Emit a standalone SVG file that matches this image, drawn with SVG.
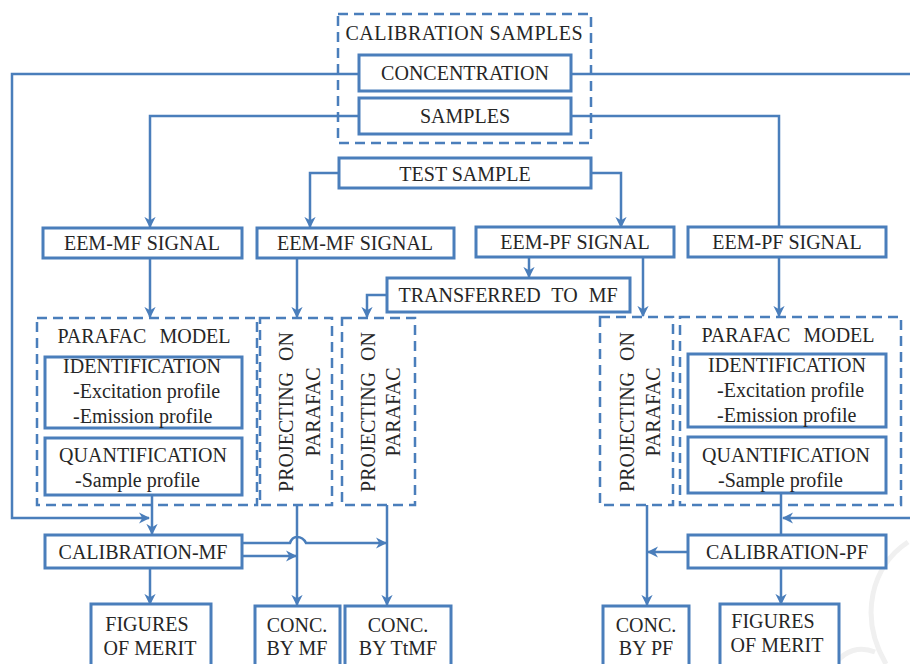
<svg xmlns="http://www.w3.org/2000/svg" width="910" height="664" viewBox="0 0 910 664">
<style>
.box{fill:#fff;stroke:#4a7ebb;stroke-width:3}
.dash{fill:none;stroke:#4a7ebb;stroke-width:2.5;stroke-dasharray:10 6}
.t{font-family:'Liberation Serif','Times New Roman','DejaVu Serif',serif;font-size:20px;fill:#262626;text-anchor:middle}
.l{text-anchor:start}
.c{fill:none;stroke:#4a7ebb;stroke-width:2.5}
.a{marker-end:url(#arr)}
.wm{fill:none;stroke:#f0f0f0;stroke-width:5}
</style>
<defs>
<marker id="arr" viewBox="0 0 10 10" refX="9" refY="5" markerWidth="4.5" markerHeight="4.5" orient="auto" markerUnits="strokeWidth">
<path d="M0,0 L10,5 L0,10 L3,5 Z" fill="#4a7ebb"/>
</marker>
</defs>
<rect width="910" height="664" fill="#fff"/>
<g id="watermark">
<path class="wm" d="M908,542 C872,566 858,616 886,664"/>
<path class="wm" d="M835,664 C845,650 860,646 875,652"/>
</g>
<g id="connectors">
<path class="c a" d="M359,74 H12 V518 H149"/>
<path class="c" d="M571,74 H915"/>
<path class="c a" d="M915,518 H783"/>
<path class="c a" d="M359,116 H150 V227"/>
<path class="c" d="M571,116 H779 V228"/>
<path class="c a" d="M339,173 H310 V227"/>
<path class="c a" d="M591,173 H621 V227"/>
<path class="c a" d="M150,258 V317"/>
<path class="c a" d="M297,258 V317"/>
<path class="c a" d="M529,257 V277"/>
<path class="c a" d="M643,257 V316"/>
<path class="c a" d="M779,257 V316"/>
<path class="c a" d="M387,295 H367 V317"/>
<path class="c a" d="M152,495 V534"/>
<path class="c a" d="M297,505 V605"/>
<path class="c a" d="M387,505 V605"/>
<path class="c a" d="M242,543 H290 Q292,537 297,537 Q303,537 306,543 H386"/>
<path class="c a" d="M242,556 H296"/>
<path class="c" d="M781,493 V535"/>
<path class="c a" d="M688,552 H648"/>
<path class="c a" d="M647,505 V605"/>
<path class="c a" d="M781,568 V604"/>
<path class="c a" d="M150,568 V604"/>
</g>
<g id="calibration-samples">
<rect class="dash" x="338" y="14" width="253" height="129"/>
<text class="t" x="464" y="40" textLength="237" lengthAdjust="spacing">CALIBRATION SAMPLES</text>
</g>
<g id="concentration">
<rect class="box" x="359" y="55" width="212" height="36"/>
<text class="t" x="465" y="80">CONCENTRATION</text>
</g>
<g id="samples">
<rect class="box" x="359" y="98" width="212" height="36"/>
<text class="t" x="465" y="123">SAMPLES</text>
</g>
<g id="test-sample">
<rect class="box" x="339" y="158" width="252" height="30"/>
<text class="t" x="465" y="181">TEST SAMPLE</text>
</g>
<g id="eem-mf-1">
<rect class="box" x="43" y="228" width="199" height="30"/>
<text class="t" x="142" y="250">EEM-MF SIGNAL</text>
</g>
<g id="eem-mf-2">
<rect class="box" x="257" y="228" width="197" height="30"/>
<text class="t" x="355" y="250">EEM-MF SIGNAL</text>
</g>
<g id="eem-pf-1">
<rect class="box" x="476" y="227" width="198" height="30"/>
<text class="t" x="575" y="249">EEM-PF SIGNAL</text>
</g>
<g id="eem-pf-2">
<rect class="box" x="688" y="227" width="198" height="30"/>
<text class="t" x="787" y="249">EEM-PF SIGNAL</text>
</g>
<g id="transferred">
<rect class="box" x="387" y="278" width="243" height="34"/>
<text class="t" x="508" y="302" word-spacing="6">TRANSFERRED TO MF</text>
</g>
<g id="parafac-left">
<rect class="dash" x="37" y="318" width="220" height="187"/>
<text class="t" x="144" y="343" word-spacing="8">PARAFAC MODEL</text>
<rect class="box" x="45" y="357" width="197" height="71"/>
<text class="t" x="142" y="373">IDENTIFICATION</text>
<text class="t l" x="73" y="398">-Excitation profile</text>
<text class="t l" x="73" y="423">-Emission profile</text>
<rect class="box" x="45" y="438" width="197" height="57"/>
<text class="t" x="143" y="462">QUANTIFICATION</text>
<text class="t l" x="75" y="487">-Sample profile</text>
</g>
<g id="projecting-1">
<rect class="dash" x="260" y="318" width="72" height="187"/>
<text class="t" transform="translate(293,412) rotate(-90)" word-spacing="6">PROJECTING ON</text>
<text class="t" transform="translate(320,412) rotate(-90)">PARAFAC</text>
</g>
<g id="projecting-2">
<rect class="dash" x="342" y="318" width="73" height="187"/>
<text class="t" transform="translate(375,412) rotate(-90)" word-spacing="6">PROJECTING ON</text>
<text class="t" transform="translate(400,412) rotate(-90)">PARAFAC</text>
</g>
<g id="projecting-3">
<rect class="dash" x="600" y="317" width="73" height="188"/>
<text class="t" transform="translate(634,412) rotate(-90)" word-spacing="6">PROJECTING ON</text>
<text class="t" transform="translate(660,412) rotate(-90)">PARAFAC</text>
</g>
<g id="parafac-right">
<rect class="dash" x="680" y="317" width="221" height="188"/>
<text class="t" x="788" y="342" word-spacing="8">PARAFAC MODEL</text>
<rect class="box" x="688" y="354" width="198" height="73"/>
<text class="t" x="787" y="372">IDENTIFICATION</text>
<text class="t l" x="717" y="397">-Excitation profile</text>
<text class="t l" x="717" y="422">-Emission profile</text>
<rect class="box" x="688" y="437" width="198" height="56"/>
<text class="t" x="786" y="462">QUANTIFICATION</text>
<text class="t l" x="718" y="487">-Sample profile</text>
</g>
<g id="calibration-mf">
<rect class="box" x="45" y="535" width="197" height="33"/>
<text class="t" x="143" y="559">CALIBRATION-MF</text>
</g>
<g id="calibration-pf">
<rect class="box" x="688" y="535" width="198" height="33"/>
<text class="t" x="787" y="559">CALIBRATION-PF</text>
</g>
<g id="figures-mf">
<rect class="box" x="91" y="604" width="120" height="70"/>
<text class="t" x="147" y="631">FIGURES</text>
<text class="t" x="150" y="655">OF MERIT</text>
</g>
<g id="conc-mf">
<rect class="box" x="255" y="606" width="85" height="68"/>
<text class="t" x="297" y="632">CONC.</text>
<text class="t" x="297" y="655">BY MF</text>
</g>
<g id="conc-ttmf">
<rect class="box" x="345" y="606" width="106" height="68"/>
<text class="t" x="398" y="632">CONC.</text>
<text class="t" x="398" y="655">BY TtMF</text>
</g>
<g id="conc-pf">
<rect class="box" x="603" y="606" width="86" height="68"/>
<text class="t" x="646" y="632">CONC.</text>
<text class="t" x="646" y="655">BY PF</text>
</g>
<g id="figures-pf">
<rect class="box" x="720" y="604" width="119" height="70"/>
<text class="t" x="773" y="628">FIGURES</text>
<text class="t" x="777" y="652">OF MERIT</text>
</g>
</svg>
